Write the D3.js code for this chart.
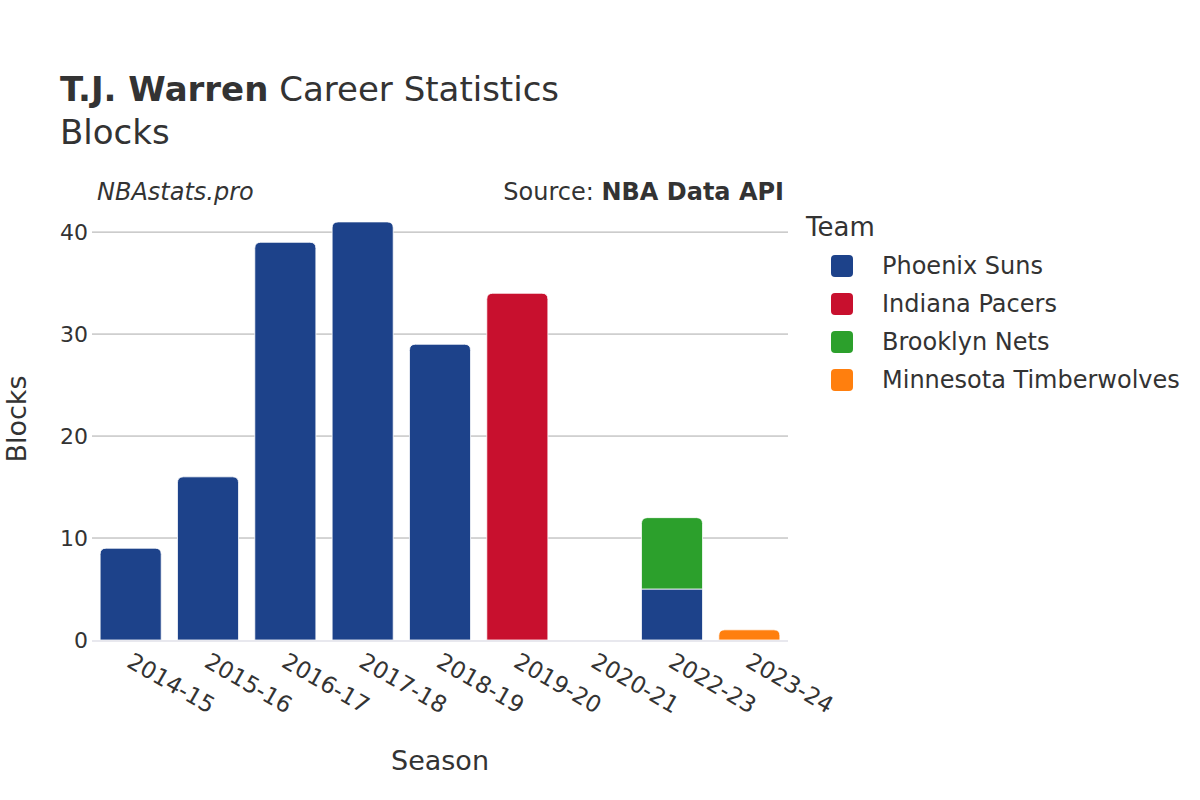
<!DOCTYPE html>
<html>
<head>
<meta charset="utf-8">
<script src="https://cdn.jsdelivr.net/npm/d3@7"></script>
<style>
  body { margin: 0; background: #fff; }
  svg { font-family: "DejaVu Sans", sans-serif; }
</style>
</head>
<body>
<div id="chart"></div>
<script>
// Data
const seasons = ['2014-15', '2015-16', '2016-17', '2017-18', '2018-19', '2019-20', '2020-21', '2022-23', '2023-24'];
const teams = ['Phoenix Suns', 'Indiana Pacers', 'Brooklyn Nets', 'Minnesota Timberwolves'];
const teamColors = ['#1d428a', '#c8102e', '#2ca02c', '#ff7f0e'];
const phoenixBlocks = [9, 16, 39, 41, 29, 0, 0, 5, 0];
const indianaBlocks = [0, 0, 0, 0, 0, 34, 0, 0, 0];
const brooklynBlocks = [0, 0, 0, 0, 0, 0, 0, 7, 0];
const minnesotaBlocks = [0, 0, 0, 0, 0, 0, 0, 0, 1];
const yTicks = [0, 10, 20, 30, 40];

const width = 1200, height = 800;
const margin = { top: 201, right: 412, bottom: 160, left: 92 };
const plotW = width - margin.left - margin.right;
const plotH = height - margin.top - margin.bottom;

const svg = d3.select('#chart').append('svg')
    .attr('width', width)
    .attr('height', height);

// Titles
const title = svg.append('text')
    .attr('x', 60)
    .attr('y', 101)
    .style('font-size', '34px')
    .attr('fill', '#333');
title.append('tspan').style('font-weight', 'bold').text('T.J. Warren');
title.append('tspan').text(' Career Statistics');
svg.append('text')
    .attr('x', 60)
    .attr('y', 144)
    .style('font-size', '34px')
    .attr('fill', '#333')
    .text('Blocks');

svg.append('text')
    .attr('x', 97)
    .attr('y', 200)
    .style('font-size', '24px')
    .style('font-style', 'italic')
    .attr('fill', '#333')
    .text('NBAstats.pro');
const src = svg.append('text')
    .attr('x', 784)
    .attr('y', 200)
    .attr('text-anchor', 'end')
    .style('font-size', '24px')
    .attr('fill', '#333');
src.append('tspan').text('Source: ');
src.append('tspan').style('font-weight', 'bold').text('NBA Data API');

const g = svg.append('g')
    .attr('transform', `translate(${margin.left},${margin.top})`);

const x = d3.scaleBand()
    .domain(seasons)
    .range([0, plotW])
    .paddingInner(0.21)
    .paddingOuter(0.105);

const y = d3.scaleLinear()
    .domain([0, 43.05])
    .range([plotH, 0]);

// Grid
g.selectAll('.grid')
    .data(yTicks.filter(d => d > 0))
    .enter()
    .append('line')
    .attr('x1', 0)
    .attr('x2', plotW)
    .attr('y1', d => y(d))
    .attr('y2', d => y(d))
    .attr('stroke', '#aaaaaa')
    .attr('stroke-width', 1);

// Y axis
const yAxis = g.append('g')
    .call(d3.axisLeft(y).tickValues(yTicks).tickSize(0).tickPadding(4));
yAxis.select('.domain').remove();
yAxis.selectAll('text')
    .style('font-size', '22px')
    .style('font-family', '"DejaVu Sans", sans-serif')
    .attr('fill', '#333');

// Stack
const series = [phoenixBlocks, indianaBlocks, brooklynBlocks, minnesotaBlocks];
const rows = seasons.map((s, i) => {
    const r = { season: s };
    teams.forEach((t, j) => r[t] = series[j][i]);
    return r;
});
const stacked = d3.stack().keys(teams)(rows);

// top segment index for each season (for rounded corners)
const topIdx = rows.map(r => {
    let k = -1;
    teams.forEach((t, j) => { if (r[t] > 0) k = j; });
    return k;
});

function barPath(x0, y0, w, y1, rad) {
    // y0 bottom, y1 top
    const h = y0 - y1;
    const r = Math.min(rad, h, w / 2);
    return `M${x0},${y0}V${y1 + r}Q${x0},${y1} ${x0 + r},${y1}H${x0 + w - r}Q${x0 + w},${y1} ${x0 + w},${y1 + r}V${y0}Z`;
}

stacked.forEach((layer, j) => {
    g.selectAll(`.bar-${j}`)
        .data(layer.map((d, i) => ({ d, i })).filter(o => o.d[1] - o.d[0] > 0))
        .enter()
        .append('path')
        .attr('d', o => {
            const x0 = x(seasons[o.i]);
            const rad = topIdx[o.i] === j ? 6 : 0;
            return barPath(x0, y(o.d[0]), x.bandwidth(), y(o.d[1]), rad);
        })
        .attr('fill', teamColors[j])
        .attr('stroke', '#fff')
        .attr('stroke-width', 0.8);
});

// Zero line
g.append('line')
    .attr('x1', 0)
    .attr('x2', plotW)
    .attr('y1', y(0) + 1)
    .attr('y2', y(0) + 1)
    .attr('stroke', '#e8e8ee')
    .attr('stroke-width', 2);

// X axis labels
g.append('g')
    .selectAll('text')
    .data(seasons)
    .enter()
    .append('text')
    .attr('transform', d => `translate(${x(d) + x.bandwidth() / 2 + 3},${plotH + 12}) rotate(30)`)
    .attr('dy', '0.7em')
    .style('font-size', '23px')
    .attr('fill', '#333')
    .text(d => d);

// Axis titles
svg.append('text')
    .attr('x', margin.left + plotW / 2)
    .attr('y', 770)
    .attr('text-anchor', 'middle')
    .style('font-size', '27px')
    .attr('fill', '#333')
    .text('Season');
svg.append('text')
    .attr('transform', `translate(26,419) rotate(-90)`)
    .attr('text-anchor', 'middle')
    .style('font-size', '27px')
    .attr('fill', '#333')
    .text('Blocks');

// Legend
const legend = svg.append('g').attr('transform', 'translate(806,0)');
legend.append('text')
    .attr('x', 0)
    .attr('y', 236)
    .style('font-size', '26px')
    .attr('fill', '#333')
    .text('Team');
const items = legend.selectAll('.item')
    .data(teams)
    .enter()
    .append('g')
    .attr('transform', (d, i) => `translate(0,${266 + i * 38})`);
items.append('rect')
    .attr('x', 25)
    .attr('y', -11)
    .attr('width', 22)
    .attr('height', 22)
    .attr('rx', 4)
    .attr('fill', (d, i) => teamColors[i]);
items.append('text')
    .attr('x', 76)
    .attr('y', 8)
    .style('font-size', '24px')
    .attr('fill', '#333')
    .text(d => d);
</script>
</body>
</html>
